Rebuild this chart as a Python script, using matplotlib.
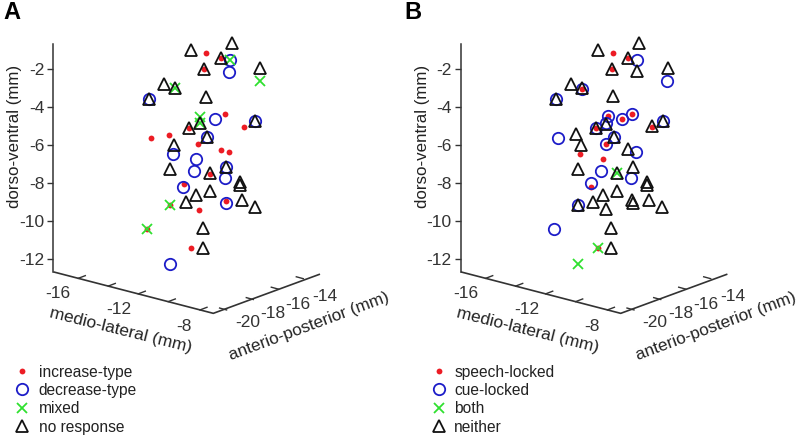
import matplotlib
matplotlib.use("Agg")
import matplotlib.pyplot as plt

plt.rcParams['font.family'] = ['Liberation Sans', 'DejaVu Sans']
plt.rcParams['axes.unicode_minus'] = False

# x: projected horizontal position (px right of the vertical axis); y: projected dorso-ventral (mm)
a_tri_x = [178.3,137.3,167.3,151,207,110.7,121.7,96,152.3,202,146.7,135.3,154,120.3,117,173,156.3,186.7,186.7,156.7,142.3,132.7,188.7,202,150,150]
a_tri_y = [-0.59,-0.98,-1.40,-1.96,-1.91,-2.76,-3.00,-3.55,-3.44,-4.73,-4.82,-5.10,-5.56,-6.01,-7.25,-7.16,-7.49,-7.97,-8.09,-8.43,-8.62,-8.99,-8.92,-9.29,-10.35,-11.45]
a_red_x = [153,167.3,151,171.3,191,135.3,97.7,116,144.7,167.7,175.7,156.3,130.7,172.3,117,145.7,93.7,138]
a_red_y = [-1.15,-1.40,-1.98,-4.36,-5.03,-5.10,-5.63,-5.45,-5.96,-6.28,-6.38,-7.51,-8.06,-8.95,-9.18,-9.43,-10.43,-11.45]
a_blue_x = [176.7,175.3,96,161.7,202,154,119.7,142.3,140.3,173,171.3,130,173,117]
a_blue_y = [-1.51,-2.12,-3.55,-4.62,-4.73,-5.59,-6.45,-6.75,-7.35,-7.16,-7.76,-8.21,-9.08,-12.30]
a_green_x = [176.7,206.3,121.7,147,146.7,117,93.7]
a_green_y = [-1.51,-2.60,-3.00,-4.52,-4.82,-9.18,-10.43]

b_tri_x = [178,137,167.3,151,207,176,110.3,121.7,95.7,152,145.7,202,191,135.3,115.7,153.7,120.3,167,117,172.7,156.3,186.7,186.7,156.3,142,132.3,171.3,172.7,188,201.7,145.7,117,150,150]
b_tri_y = [-0.59,-0.98,-1.40,-1.96,-1.91,-2.09,-2.76,-3.00,-3.55,-3.43,-4.89,-4.73,-4.99,-5.10,-5.42,-5.56,-6.01,-6.23,-7.25,-7.16,-7.49,-7.97,-8.09,-8.43,-8.62,-8.99,-8.92,-9.04,-8.92,-9.29,-9.39,-9.18,-10.35,-11.45]
b_blue_x = [176.3,206,121.7,95.7,147.7,171,161,145.7,202,135.3,97.7,153.7,145,175.3,140.3,170.7,130.3,117,93]
b_blue_y = [-1.51,-2.60,-3.04,-3.55,-4.46,-4.34,-4.61,-4.85,-4.73,-5.12,-5.63,-5.56,-5.96,-6.38,-7.35,-7.76,-8.02,-9.18,-10.43]
b_red_x = [152.7,167.3,151,121.7,147.7,171,161,191,135.3,145,119.7,142,130,137.7]
b_red_y = [-1.15,-1.40,-1.98,-3.04,-4.46,-4.34,-4.61,-5.03,-5.12,-5.96,-6.47,-6.74,-8.20,-11.45]
b_green_x = [156.3,137.7,117]
b_green_y = [-7.49,-11.45,-12.30]

z_ticks = [-12,-10,-8,-6,-4,-2]
z_labels = ['-12','-10','-8','-6','-4','-2']
floor_x = [0,160,266.7]
floor_y = [-12.69,-14.88,-12.81]
ml_tick_x = [25,55,85,115,146.7]
ml_tick_y = [-13.03,-13.44,-13.85,-14.26,-14.70]
ap_tick_x = [173.3,200,225,250]
ap_tick_y = [-14.70,-14.15,-13.60,-13.05]
ml_label_x = [5,66,131]
ml_label_y = [-13.83,-14.67,-15.55]
ml_labels = ['-16','-12','-8']
ap_label_x = [194,220,245,271.7]
ap_label_y = [-15.38,-14.88,-14.41,-13.97]
ap_labels = ['-20','-18','-16','-14']

legend_a = ['increase-type','decrease-type','mixed','no response']
legend_b = ['speech-locked','cue-locked','both','neither']

RED, BLUE, GREEN, BLACK = '#ec1c24', '#1c1cc8', '#2fe02f', '#111111'
INK = '#333333'
W, H = 800, 438

fig = plt.figure(figsize=(8, 4.38), dpi=100)

def panel(left, axis_px, tx, ty, rx, ry, bx, by, gx, gy, labels, leg_left, pad):
    ax = fig.add_axes([left/W, 0, 400/W, 1])
    ax.set_xlim(-(axis_px-left), 400-(axis_px-left))
    ax.set_ylim(-21.46, 1.66)
    ax.patch.set_alpha(0)
    for s in ['top','right','bottom']:
        ax.spines[s].set_visible(False)
    ax.spines['left'].set_position(('data',0))
    ax.spines['left'].set_bounds(-12.69,-0.66)
    ax.spines['left'].set_color(INK)
    ax.spines['left'].set_linewidth(1.1)
    ax.set_xticks([])
    ax.set_yticks(z_ticks)
    ax.set_yticklabels(z_labels, fontsize=12.5, color=INK)
    ax.tick_params(axis='y', direction='out', length=4.5, width=1, color=INK, pad=2)
    ax.plot(floor_x, floor_y, color=INK, lw=1.2, solid_capstyle='butt', clip_on=False)
    for x, y in zip(ml_tick_x, ml_tick_y):
        ax.plot([x, x+7], [y, y+0.14], color=INK, lw=1)
    for x, y in zip(ap_tick_x, ap_tick_y):
        ax.plot([x, x-7], [y, y+0.1], color=INK, lw=1)
    for x, y, s in zip(ml_label_x, ml_label_y, ml_labels):
        ax.text(x, y, s, fontsize=12.5, color=INK, ha='center', va='center')
    for x, y, s in zip(ap_label_x, ap_label_y, ap_labels):
        ax.text(x, y, s, fontsize=12.5, color=INK, ha='center', va='center')
    ax.text(-38.5, -5.55, 'dorso-ventral (mm)', rotation=90, fontsize=12.2, color='#222222', ha='center', va='center')
    ax.text(67.4, -15.76, 'medio-lateral (mm)', rotation=-14, fontsize=12.5, color='#222222', ha='center', va='center', rotation_mode='anchor')
    ax.text(255.5, -15.59, 'anterio-posterior (mm)', rotation=20.4, fontsize=12.3, color='#222222', ha='center', va='center', rotation_mode='anchor')
    h1, = ax.plot(rx, ry, 'o', color=RED, ms=4.2, mew=0, ls='none')
    h2, = ax.plot(bx, by, 'o', mfc='none', mec=BLUE, ms=8.2, mew=1.3, ls='none')
    h3, = ax.plot(gx, gy, 'x', color=GREEN, ms=6.8, mew=1.3, ls='none')
    h4, = ax.plot(tx, ty, '^', mfc='none', mec=BLACK, ms=9, mew=1.3, ls='none')
    leg = ax.legend([h1,h2,h3,h4], labels, loc='upper left', frameon=False,
              bbox_to_anchor=(leg_left/W, 1-364.5/H), bbox_transform=fig.transFigure,
              borderpad=0, borderaxespad=0, handlelength=1.0, handletextpad=pad,
              labelspacing=0.22, prop={'size':11.2}, numpoints=1)
    for t in leg.get_texts():
        t.set_color('#222222')
    return ax

panel(0, 53.3, a_tri_x, a_tri_y, a_red_x, a_red_y, a_blue_x, a_blue_y, a_green_x, a_green_y, legend_a, 14.2, 0.57)
panel(400, 460.7, b_tri_x, b_tri_y, b_red_x, b_red_y, b_blue_x, b_blue_y, b_green_x, b_green_y, legend_b, 431.5, 0.46)

fig.text(3/W, 1-19/H, 'A', fontsize=17, fontweight='bold', color='black', ha='left', va='baseline')
fig.text(404/W, 1-19/H, 'B', fontsize=17, fontweight='bold', color='black', ha='left', va='baseline')

fig.savefig('out.png', dpi=100)
